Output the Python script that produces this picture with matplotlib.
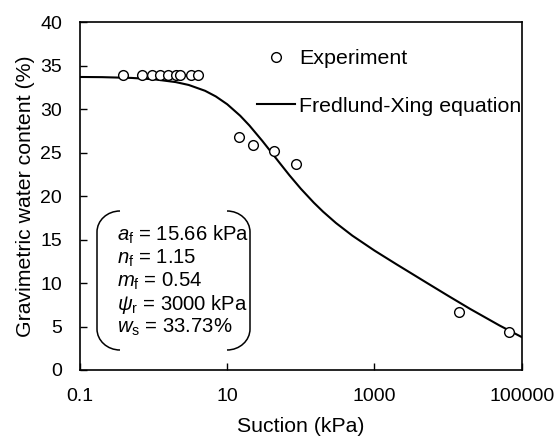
import matplotlib
matplotlib.use("Agg")
from matplotlib import pyplot as plt
from matplotlib.path import Path
from matplotlib.patches import PathPatch

plt.rcParams["font.family"] = ["Liberation Sans", "DejaVu Sans"]
plt.rcParams["mathtext.fontset"] = "custom"
plt.rcParams["mathtext.rm"] = "Liberation Sans"
plt.rcParams["mathtext.it"] = "Liberation Sans:italic"

# measured points
exp_suction = [0.38, 0.70, 0.96, 1.22, 1.55, 2.0, 2.28, 3.19, 3.97, 14.6, 22.6, 43.2, 86.1, 14090, 68100]
exp_water = [33.95, 33.95, 33.95, 33.95, 33.95, 33.95, 33.95, 33.95, 33.95, 26.78, 25.89, 25.24, 23.71, 6.67, 4.41]

# fitted curve
fit_suction = [0.1, 0.2, 0.5, 1, 2, 3, 5, 7, 10, 15, 20, 30, 40, 50, 70, 100, 150, 200, 300,
               500, 1000, 2000, 3000, 5000, 10000, 20000, 50000, 100000]
fit_water = [33.71, 33.69, 33.60, 33.45, 33.12, 32.79, 32.12, 31.47, 30.57, 29.25, 28.13, 26.35,
             25.01, 23.96, 22.40, 20.85, 19.25, 18.22, 16.91, 15.46, 13.74, 12.15, 11.24, 10.09,
             8.54, 7.02, 5.12, 3.79]

x_ticks = [0.1, 10, 1000, 100000]
x_ticklabels = ["0.1", "10", "1000", "100000"]
y_ticks = [0, 5, 10, 15, 20, 25, 30, 35, 40]

param_lines = [
    r"$a_\mathrm{f}$ = 15.66 kPa",
    r"$n_\mathrm{f}$ = 1.15",
    r"$m_\mathrm{f}$ = 0.54",
    r"$\psi_\mathrm{r}$ = 3000 kPa",
    r"$w_\mathrm{s}$ = 33.73%",
]

W, H = 559, 437
L, R, T, B = 80, 521.7, 22.3, 370


def ax_xy(px, py):
    # pixel position (from top-left) -> axes fraction
    return ((px - L) / (R - L), (B - py) / (B - T))


fig = plt.figure(figsize=(W / 100, H / 100), dpi=100)
ax = fig.add_axes([L / W, (H - B) / H, (R - L) / W, (B - T) / H])

ax.plot(fit_suction, fit_water, color="black", lw=1.5, label="Fredlund-Xing equation", zorder=2)
ax.plot(exp_suction, exp_water, ls="none", marker="o", ms=7.0, mfc="white", mec="black",
        mew=1.0, label="Experiment", zorder=3)

ax.set_xscale("log")
ax.set_xlim(0.1, 100000)
ax.set_ylim(0, 40)
ax.set_xticks(x_ticks)
ax.set_xticklabels(x_ticklabels)
ax.xaxis.set_minor_locator(matplotlib.ticker.NullLocator())
ax.set_yticks(y_ticks)
ax.tick_params(direction="in", length=5, width=1.0, labelsize=14)
ax.tick_params(axis="x", pad=13)
ax.tick_params(axis="y", pad=13)
for s in ax.spines.values():
    s.set_linewidth(1.2)

ax.set_xlabel("Suction (kPa)", fontsize=15.3, labelpad=8.5)
ax.set_ylabel("Gravimetric water content (%)", fontsize=15.3, labelpad=4)

handles, labels = ax.get_legend_handles_labels()
ax.legend(handles[::-1], labels[::-1], loc="upper left", bbox_to_anchor=ax_xy(257, 49),
          frameon=False, fontsize=15.4, handlelength=1.78, handletextpad=0.2, labelspacing=1.34,
          borderpad=0, borderaxespad=0)

# bracket-style frame round the parameters
k = 0.552
def bracket(xe, x0, ytop, ybot, ry):
    rx = xe - x0
    pts = [(xe, ytop), (xe - k * rx, ytop), (x0, ytop + ry - k * ry), (x0, ytop + ry),
           (x0, ybot - ry), (x0, ybot - ry + k * ry), (xe - k * rx, ybot), (xe, ybot)]
    codes = [Path.MOVETO, Path.CURVE4, Path.CURVE4, Path.CURVE4, Path.LINETO,
             Path.CURVE4, Path.CURVE4, Path.CURVE4]
    verts = [ax_xy(px, py) for px, py in pts]
    ax.add_patch(PathPatch(Path(verts, codes), transform=ax.transAxes, fill=False,
                           lw=1.1, ec="black", clip_on=False))

bracket(120, 97, 211, 350, 21)
bracket(227, 250, 211, 350, 21)

line_y = [235, 258, 281.5, 304.5, 327]
for txt, py in zip(param_lines, line_y):
    ax.text(*ax_xy(117, py), txt, transform=ax.transAxes, fontsize=14.6, va="center", ha="left")

fig.savefig("out.png", dpi=100)
